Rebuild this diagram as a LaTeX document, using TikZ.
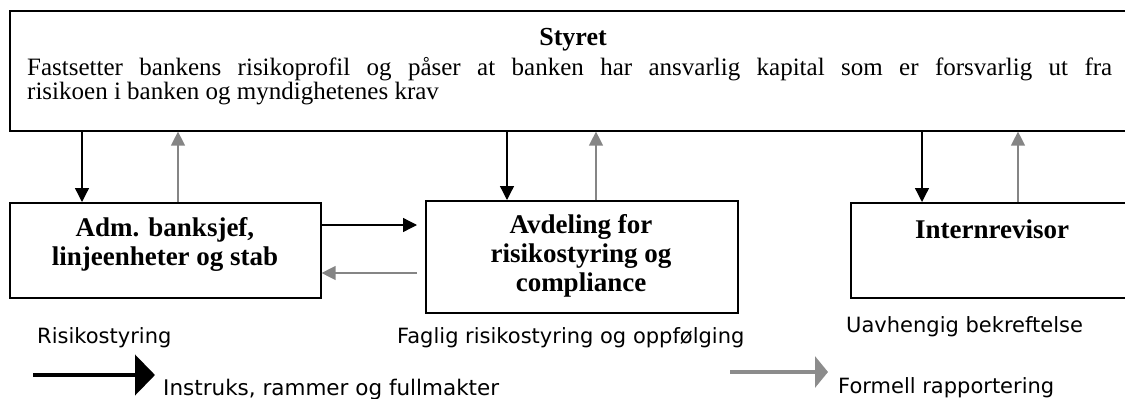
\documentclass[tikz,border=0pt]{standalone}
\usepackage{fontspec}
\setmainfont{Liberation Serif}
\newfontfamily\labelfont{DejaVu Sans}
\usetikzlibrary{arrows.meta,calc}

\tikzset{
    boks/.style={draw, line width=1.6pt, rectangle, anchor=north west, inner sep=0pt},
    tittel/.style={font=\fontsize{27}{29}\selectfont\bfseries, align=center, anchor=base, inner sep=0pt},
    styring/.style={-{Triangle[length=14pt,width=14pt]}, line width=1.3pt},
    rapport/.style={-{Triangle[length=14pt,width=14pt]}, line width=1.3pt, color=black!48},
    merknad/.style={font=\labelfont\fontsize{21}{24}\selectfont, anchor=base west, inner sep=0pt},
}

\begin{document}
\begin{tikzpicture}[x=1pt, y=-1pt]
    \useasboundingbox (0,0) rectangle (1125,399);
    \clip (0,0) rectangle (1125,399);
    \begin{scope} % Boxes
        \node[boks, minimum width=1121, minimum height=120] (styret) at (9,10) {};
        \node[boks, minimum width=311, minimum height=95] (adm) at (9,202) {};
        \node[boks, minimum width=312, minimum height=112] (avd) at (425,200) {};
        \node[boks, minimum width=284, minimum height=95] (intern) at (850,202) {};
    \end{scope}
    \begin{scope} % Box texts (base = last line)
        \node[tittel, font=\fontsize{26}{29}\selectfont\bfseries] (styrettittel) at (573,45) {Styret};
        \node[anchor=base west, inner sep=0pt, text width=1085, align=justify,
            font=\fontsize{25}{24}\selectfont] (styrettekst) at (27,75)
            {Fastsetter bankens risikoprofil og påser at banken har ansvarlig kapital
            som er forsvarlig ut fra\linebreak risikoen i banken og myndighetenes krav};
        \node[tittel] (admtittel) at (165,265) {Adm. banksjef,\\linjeenheter og stab};
        \node[tittel] (avdtittel) at (581,291) {Avdeling for\\risikostyring og\\compliance};
        \node[tittel] (interntittel) at (992,238) {Internrevisor};
    \end{scope}
    \begin{scope} % Instructions down, reports up
        \draw[styring] (styret.south -| 82,0) -- (adm.north -| 82,0);
        \draw[rapport] (adm.north -| 178,0) -- (styret.south -| 178,0);
        \draw[styring] (styret.south -| 507,0) -- (avd.north -| 507,0);
        \draw[rapport] (avd.north -| 596,0) -- (styret.south -| 596,0);
        \draw[styring] (styret.south -| 922,0) -- (intern.north -| 922,0);
        \draw[rapport] (intern.north -| 1018,0) -- (styret.south -| 1018,0);
        \draw[styring, shorten >=8pt] (adm.east |- 0,225) -- (avd.west |- 0,225);
        \draw[rapport, shorten <=8pt] (avd.west |- 0,273) -- (adm.east |- 0,273);
    \end{scope}
    \begin{scope} % Roles
        \node[merknad] (rolle1) at (37,343) {Risikostyring};
        \node[merknad] (rolle2) at (397,343) {Faglig risikostyring og oppfølging};
        \node[merknad] (rolle3) at (846,332) {Uavhengig bekreftelse};
    \end{scope}
    \begin{scope} % Legend
        \coordinate (instr0) at (33,375);
        \coordinate (instr1) at (155,375);
        \draw[line width=4.5pt, -{Triangle[length=20pt,width=40pt]}] (instr0) -- (instr1);
        \node[merknad, font=\labelfont\fontsize{21.5}{24}\selectfont] (instrtekst) at (163,395)
            {Instruks, rammer og fullmakter};
        \coordinate (rapp0) at (730,372);
        \coordinate (rapp1) at (828,372);
        \draw[line width=4pt, black!45, -{Triangle[length=13pt,width=31pt]}] (rapp0) -- (rapp1);
        \node[merknad] (rapptekst) at (838,393) {Formell rapportering};
    \end{scope}
\end{tikzpicture}
\end{document}
